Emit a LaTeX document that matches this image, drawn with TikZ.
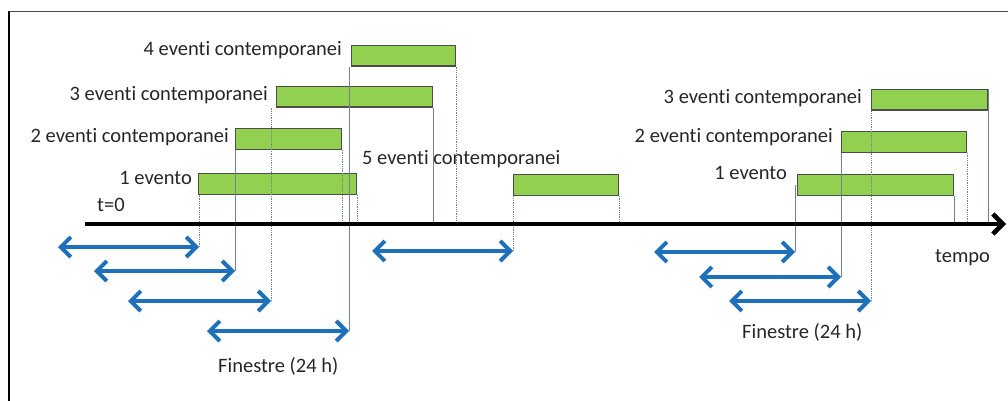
\documentclass[tikz,border=0pt]{standalone}
\usepackage{fontspec}
\setmainfont{Carlito}[Ligatures=NoCommon]
\usetikzlibrary{arrows.meta}
\definecolor{barGreen}{RGB}{146,208,80}
\definecolor{winBlue}{RGB}{31,112,186}
\definecolor{guideGray}{RGB}{115,130,145}

\begin{document}
\begin{tikzpicture}[x=1pt,y=-1pt,
  ev bar/.style={draw=black!70,line width=1.2pt,fill=barGreen,inner sep=0pt,minimum height=20.5pt,anchor=north west},
  lbl/.style={font=\fontsize{20.5}{24}\selectfont,inner sep=0pt,text=black!85},
  window/.style={winBlue,line width=4pt,{Straight Barb[length=10pt,width=20pt]}-{Straight Barb[length=10pt,width=20pt]}},
  guide/.style={guideGray,line width=0.8pt},
  guide dot/.style={guide,densely dotted},
  time axis/.style={black,line width=4.5pt,-{Straight Barb[length=10pt,width=20pt]}}]

  \useasboundingbox (0,0) rectangle (1008,401);
  \draw[black,line width=1.2pt] (9,401) -- (9,11.5);
  \draw[black!70,line width=1.5pt] (9,11.5) -- (1008,11.5);

  % eventi
  \node[ev bar,minimum width=158] (b1) at (198,173) {};
  \node[ev bar,minimum width=106] (b2) at (235,128) {};
  \node[ev bar,minimum width=156] (b3) at (276,86) {};
  \node[ev bar,minimum width=104] (b4) at (351,45) {};
  \node[ev bar,minimum width=105] (b5) at (513,174) {};
  \node[ev bar,minimum width=156] (r1) at (797,174) {};
  \node[ev bar,minimum width=125] (r2) at (841,131) {};
  \node[ev bar,minimum width=116] (r3) at (871,89) {};

  % finestre
  \coordinate (w1s) at (58,247);  \coordinate (w1e) at (199,247);
  \coordinate (w2s) at (94,271);  \coordinate (w2e) at (235,271);
  \coordinate (w3s) at (128,301); \coordinate (w3e) at (271,301);
  \coordinate (w4s) at (207,331); \coordinate (w4e) at (349,331);
  \coordinate (w5s) at (372,251); \coordinate (w5e) at (513,251);
  \coordinate (v1s) at (654,252); \coordinate (v1e) at (795,252);
  \coordinate (v2s) at (699,277); \coordinate (v2e) at (841,277);
  \coordinate (v3s) at (729,301); \coordinate (v3e) at (871,301);

  \coordinate (t0) at (85,224);
  \coordinate (tend) at (1006,224);

  \draw[guide dot] (w1e) -- (w1e |- b1.south);
  \draw[guide] (w2e) -- (w2e |- b2.south);
  \draw[guide dot] (w3e) -- (w3e |- b3.south);
  \draw[guide] (w4e) -- (w4e |- b4.south);
  \draw[guide dot] (w5e) -- (w5e |- b5.south);
  \draw[guide] (v1e) -- (v1e |- r1.west);
  \draw[guide] (v2e) -- (v2e |- r2.south);
  \draw[guide dot] (v3e) -- (v3e |- r3.south);

  \draw[guide dot] (b1.south east) -- (b1.south east |- t0);
  \draw[guide dot] (b2.south east) -- (b2.south east |- t0);
  \draw[guide] (b3.south east) -- (b3.south east |- t0);
  \draw[guide dot] (b4.south east) -- (b4.south east |- t0);
  \draw[guide dot] (b5.south east) -- (b5.south east |- t0);
  \draw[guide] (r1.south east) -- (r1.south east |- t0);
  \draw[guide dot] (r2.south east) -- (r2.south east |- t0);
  \draw[guide] (r3.north east) -- (r3.north east |- t0);

  \draw[time axis] (t0) -- (tend);

  \draw[window] (w1s) -- (w1e);
  \draw[window] (w2s) -- (w2e);
  \draw[window] (w3s) -- (w3e);
  \draw[window] (w4s) -- (w4e);
  \draw[window] (w5s) -- (w5e);
  \draw[window] (v1s) -- (v1e);
  \draw[window] (v2s) -- (v2e);
  \draw[window] (v3s) -- (v3e);

  % etichette
  \node[lbl,anchor=base east] (l4) at (342,56) {4 eventi contemporanei};
  \node[lbl,anchor=base east] (l3) at (268,100) {3 eventi contemporanei};
  \node[lbl,anchor=base east] (l2) at (229,142) {2 eventi contemporanei};
  \node[lbl,anchor=base east] (l1) at (192,184) {1 evento};
  \node[lbl,anchor=base west] (l5) at (362,164) {5 eventi contemporanei};
  \node[lbl,anchor=base west] (lt0) at (97,211) {t=0};
  \node[lbl,anchor=base east] (m3) at (862,103) {3 eventi contemporanei};
  \node[lbl,anchor=base east] (m2) at (833,142) {2 eventi contemporanei};
  \node[lbl,anchor=base east] (m1) at (787,179) {1 evento};
  \node[lbl,anchor=base west] (ltempo) at (935,262) {tempo};
  \node[lbl,anchor=base west] (lfin1) at (218,372) {Finestre (24 h)};
  \node[lbl,anchor=base west] (lfin2) at (742,338) {Finestre (24 h)};
\end{tikzpicture}
\end{document}
